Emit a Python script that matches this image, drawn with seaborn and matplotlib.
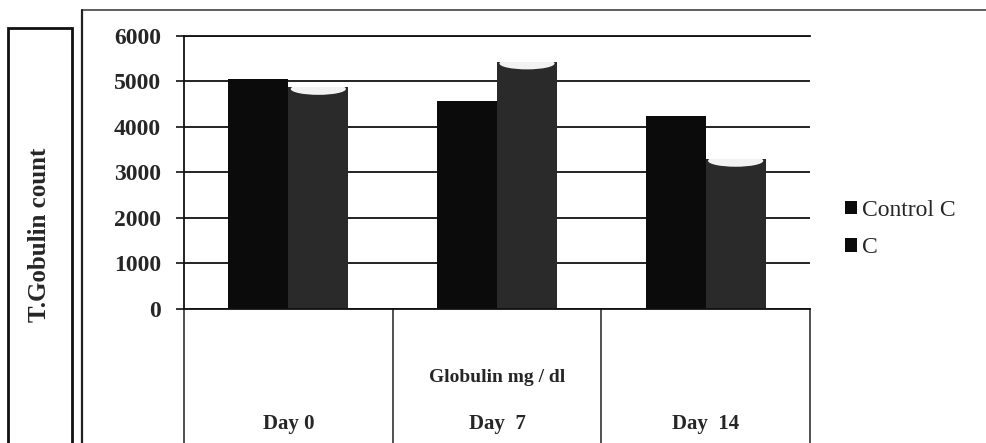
import matplotlib
matplotlib.use('Agg')
import matplotlib.pyplot as plt
import seaborn as sns
import pandas as pd
from matplotlib.lines import Line2D
from matplotlib.patches import Rectangle, Ellipse

# ---- data ----
days = ['Day 0', 'Day  7', 'Day  14']
series = ['Control C', 'C']
control_c = [5040, 4560, 4230]
c_vals = [4870, 5430, 3290]
yticks = [0, 1000, 2000, 3000, 4000, 5000, 6000]
ylabel = 'T.Gobulin count'
xtitle = 'Globulin mg / dl'

df = pd.DataFrame({
    'Day': days * 2,
    'Series': [series[0]] * len(days) + [series[1]] * len(days),
    'Value': control_c + c_vals,
})

sns.set_theme(style='white')
plt.rcParams['font.family'] = ['Liberation Serif', 'DejaVu Serif']

W, H = 986, 443
fig = plt.figure(figsize=(W / 100, H / 100), dpi=100)
left, right, top, bottom = 184, 810, 35.7, 308.7
ax = fig.add_axes([left / W, 1 - bottom / H, (right - left) / W, (bottom - top) / H])

sns.barplot(data=df, x='Day', y='Value', hue='Series', order=days,
            hue_order=series, palette=['#0b0b0b', '#2a2a2a'], width=0.575,
            gap=0, saturation=1, errorbar=None, ax=ax, linewidth=0)

ax.set_xlim(-0.5, len(days) - 0.5)
ax.set_ylim(0, 6000)
ax.set_yticks(yticks)
ax.set_yticklabels([str(t) for t in yticks], fontsize=17, fontweight='bold')
ax.set_xticks([])
ax.set_xlabel('')
ax.set_ylabel('')
ax.grid(axis='y', color='#111111', lw=1.3)
ax.grid(axis='x', visible=False)
ax.set_axisbelow(True)
ax.tick_params(axis='y', which='major', direction='out', length=5.5, width=1.2,
               color='#111111', pad=11, left=True)
for s in ['left', 'bottom', 'top']:
    ax.spines[s].set_visible(True)
    ax.spines[s].set_color('#111111')
    ax.spines[s].set_linewidth(1.3)
ax.spines['right'].set_visible(False)

# light concave caps on the "C" cylinders (derived from the drawn bars)
c_patches = [p for p in ax.patches if isinstance(p, Rectangle)][len(days):2 * len(days)]
for p in c_patches:
    cx = p.get_x() + p.get_width() / 2
    ytop = p.get_y() + p.get_height()
    e = Ellipse((cx, ytop - 40), p.get_width() * 0.92, 260, facecolor='#f2f2f2',
                edgecolor='none', zorder=p.get_zorder() + 0.1)
    ax.add_patch(e)
    e.set_clip_path(p)

# table below the axis
xt = ax.get_xaxis_transform()
depth = -(H - bottom) / (bottom - top)
for xb in [-0.5 + i for i in range(len(days) + 1)]:
    ax.plot([xb, xb], [0, depth], transform=xt, clip_on=False, color='#222222', lw=1.1)
ax.text(1, -(377 - bottom) / (bottom - top), xtitle, transform=xt,
        ha='center', va='center', fontsize=14, fontweight='bold')
for i, d in enumerate(days):
    ax.text(i, -(424 - bottom) / (bottom - top), d, transform=xt,
            ha='center', va='center', fontsize=15, fontweight='bold')

# legend
handles, labels = ax.get_legend_handles_labels()
ax.get_legend().remove()
for h in handles:
    h.set_facecolor('#0b0b0b')
fig.legend(handles, labels, loc='center left',
           bbox_to_anchor=(836 / W, 1 - 229 / H), frameon=False,
           fontsize=17, handlelength=0.5, handleheight=0.5,
           handletextpad=0.2, labelspacing=0.7, borderaxespad=0)

# y label with box
fig.text(40 / W, 1 - 235 / H, ylabel, rotation=90, ha='center', va='center',
         fontsize=18, fontweight='bold')
fig.add_artist(Rectangle((8 / W, -0.02), 64 / W, (H - 28) / H + 0.02,
                         transform=fig.transFigure, fill=False, lw=2, ec='#111111'))

# outer chart frame
fig.add_artist(Line2D([82 / W, 1], [1 - 10 / H, 1 - 10 / H], transform=fig.transFigure,
                      color='#333333', lw=1.1))
fig.add_artist(Line2D([82 / W, 82 / W], [1 - 10 / H, 0], transform=fig.transFigure,
                      color='#222222', lw=1.6))

fig.savefig('out.png', dpi=100)
